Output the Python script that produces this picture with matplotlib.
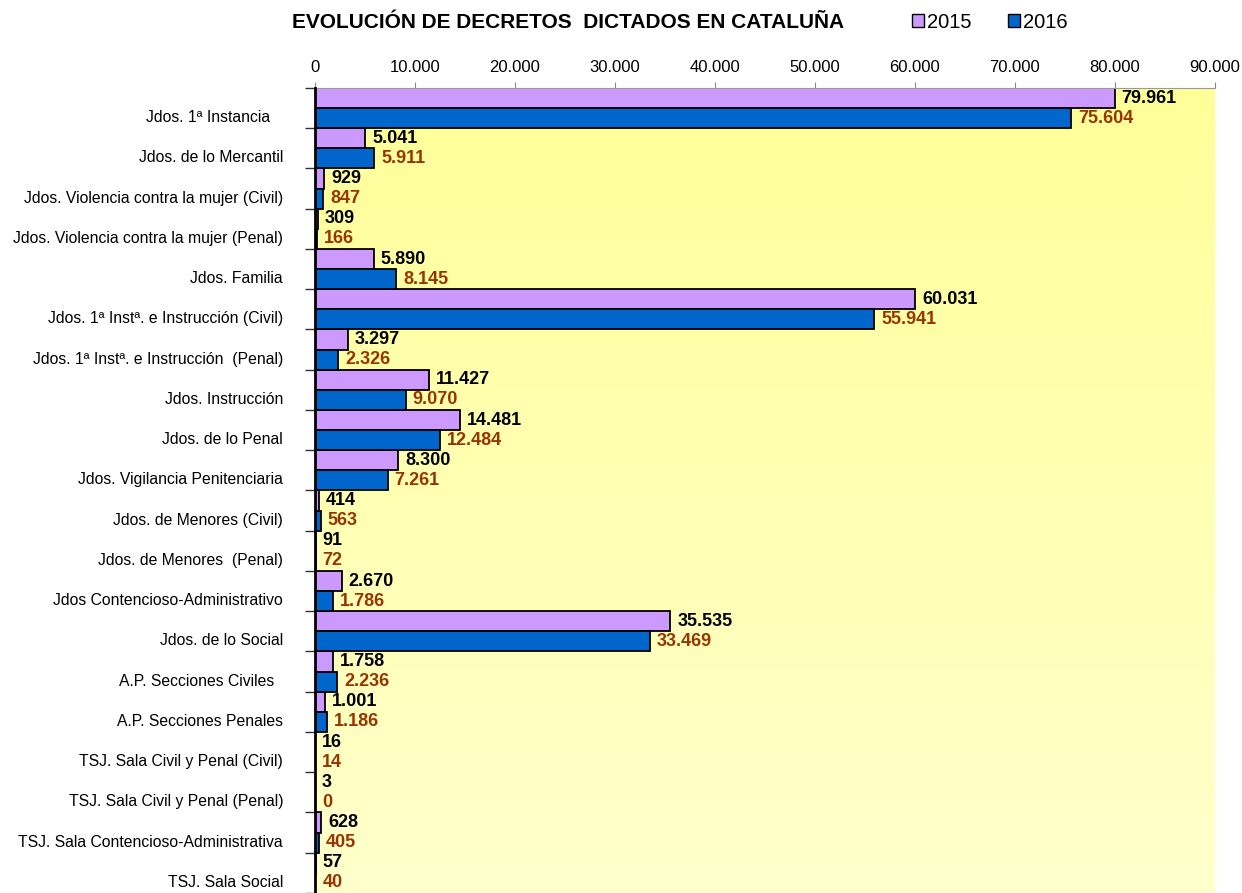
import numpy as np
import matplotlib
matplotlib.use("Agg")
import matplotlib.pyplot as plt
import matplotlib.transforms as mtransforms
from matplotlib.patches import Patch

plt.rcParams['font.family'] = ['Liberation Sans', 'DejaVu Sans']

categories = [
    "Jdos. 1ª Instancia   ",
    "Jdos. de lo Mercantil",
    "Jdos. Violencia contra la mujer (Civil)",
    "Jdos. Violencia contra la mujer (Penal)",
    "Jdos. Familia",
    "Jdos. 1ª Instª. e Instrucción (Civil)",
    "Jdos. 1ª Instª. e Instrucción  (Penal)",
    "Jdos. Instrucción",
    "Jdos. de lo Penal",
    "Jdos. Vigilancia Penitenciaria",
    "Jdos. de Menores (Civil)",
    "Jdos. de Menores  (Penal)",
    "Jdos Contencioso-Administrativo",
    "Jdos. de lo Social",
    "A.P. Secciones Civiles  ",
    "A.P. Secciones Penales",
    "TSJ. Sala Civil y Penal (Civil)",
    "TSJ. Sala Civil y Penal (Penal)",
    "TSJ. Sala Contencioso-Administrativa",
    "TSJ. Sala Social",
]
vals_2015 = [79961, 5041, 929, 309, 5890, 60031, 3297, 11427, 14481, 8300,
             414, 91, 2670, 35535, 1758, 1001, 16, 3, 628, 57]
vals_2016 = [75604, 5911, 847, 166, 8145, 55941, 2326, 9070, 12484, 7261,
             563, 72, 1786, 33469, 2236, 1186, 14, 0, 405, 40]

col_2015 = "#CC99FF"
col_2016 = "#0066CC"
lab_2016 = "#993300"

def fmt(v):
    return f"{v:,}".replace(",", ".")

fig = plt.figure(figsize=(12.42, 8.93), dpi=100)
ax = fig.add_axes([315/1242, 0.0, 900/1242, 1 - 88/893])

y = np.arange(len(categories))
h = 0.5

# yellow gradient background (darker at top)
grad = np.linspace(0, 1, 256).reshape(-1, 1)
top = np.array([255, 255, 153]) / 255
bot = np.array([255, 255, 204]) / 255
img = top + (bot - top) * grad[:, :, None]
ax.imshow(img, extent=[0, 90000, len(categories) - 0.5, -0.5], aspect='auto', zorder=0)

ax.barh(y - h/2, vals_2015, height=h, color=col_2015, edgecolor='black', linewidth=1.3, zorder=2)
ax.barh(y + h/2, vals_2016, height=h, color=col_2016, edgecolor='black', linewidth=1.3, zorder=2)

for i in range(len(categories)):
    ax.annotate(fmt(vals_2015[i]), (vals_2015[i], y[i] - h/2), xytext=(5, 0),
                textcoords='offset points', va='center', ha='left',
                fontsize=13, fontweight='bold', color='black', zorder=3)
    ax.annotate(fmt(vals_2016[i]), (vals_2016[i], y[i] + h/2), xytext=(5, 0),
                textcoords='offset points', va='center', ha='left',
                fontsize=13, fontweight='bold', color=lab_2016, zorder=3)

ax.set_xlim(0, 90000)
ax.set_ylim(len(categories) - 0.5, -0.5)
ax.xaxis.tick_top()
ax.set_xticks(np.arange(0, 90001, 10000))
ax.set_xticklabels([fmt(v) for v in range(0, 90001, 10000)], fontsize=12)
ax.tick_params(axis='x', length=4, color='#888888', pad=5)

ax.set_yticks(y)
ax.set_yticklabels(categories, fontsize=11.3)
ax.set_yticks(np.arange(-0.5, len(categories)), minor=True)
ax.tick_params(axis='y', which='major', length=0, pad=23)
ax.tick_params(axis='y', which='minor', length=7, width=1, color='#333333')
# category names sit a little below the centre of each group
shift = mtransforms.ScaledTranslation(0, -0.08, fig.dpi_scale_trans)
for lbl in ax.get_yticklabels():
    lbl.set_transform(lbl.get_transform() + shift)

for s in ['right', 'bottom']:
    ax.spines[s].set_visible(False)
ax.spines['top'].set_color('#999999')
ax.spines['top'].set_linewidth(0.8)
ax.spines['left'].set_linewidth(2)
ax.spines['left'].set_zorder(4)

fig.text(568/1242, 1 - 22/893, "EVOLUCIÓN DE DECRETOS  DICTADOS EN CATALUÑA",
         ha='center', va='center', fontsize=15, fontweight='bold')

handles = [Patch(facecolor=col_2015, edgecolor='black', label='2015'),
           Patch(facecolor=col_2016, edgecolor='black', label='2016')]
fig.legend(handles=handles, loc='center', bbox_to_anchor=(990/1242, 1 - 22/893),
           ncol=2, frameon=False, fontsize=14.5, handlelength=0.6, handleheight=0.6,
           handletextpad=0.15, columnspacing=1.8)

fig.savefig("out.png", dpi=100)
